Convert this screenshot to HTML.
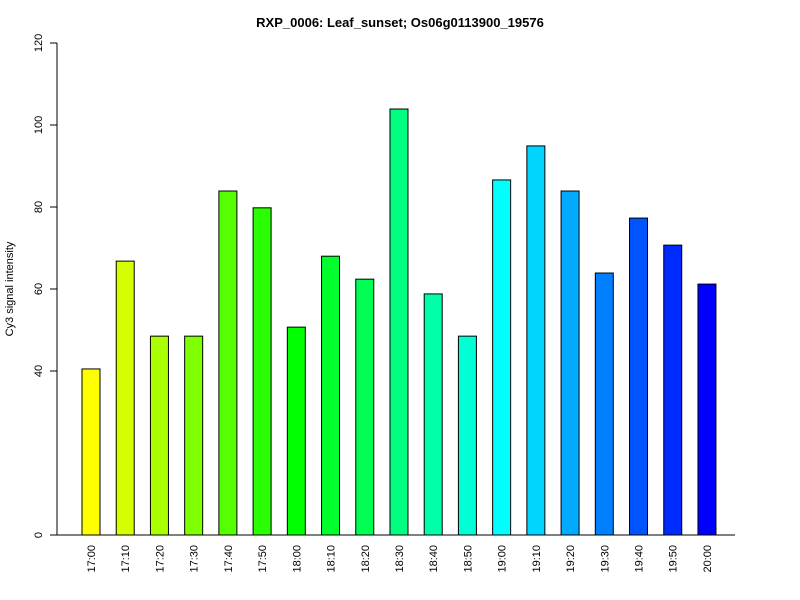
<!DOCTYPE html>
<html><head><meta charset="utf-8"><style>
body{margin:0;background:#fff;}
svg{display:block;font-family:"Liberation Sans",Arial,sans-serif;}
</style></head><body>
<svg id="chart" width="800" height="600">
<text x="400" y="27" text-anchor="middle" font-weight="bold" font-size="13">RXP_0006: Leaf_sunset; Os06g0113900_19576</text>
<text transform="translate(13,289) rotate(-90)" text-anchor="middle" font-size="11">Cy3 signal intensity</text>
<g id="yaxis"></g>
<g id="bars"></g>
<g id="xlabels"></g>
</svg>
<script>
const categories=["17:00","17:10","17:20","17:30","17:40","17:50","18:00","18:10","18:20","18:30","18:40","18:50","19:00","19:10","19:20","19:30","19:40","19:50","20:00"];
const values=[40.5,66.8,48.5,48.5,83.9,79.8,50.7,68,62.4,103.9,58.8,48.5,86.6,94.9,83.9,63.9,77.3,70.7,61.2];
const yTicks=[0,40,60,80,100,120];
const NS="http://www.w3.org/2000/svg";
const y=v=>535-v*492/120;
const x=i=>91+i*34.22;
function mk(t,a,p){const e=document.createElementNS(NS,t);for(const k in a)e.setAttribute(k,a[k]);p.appendChild(e);return e;}
const ya=document.getElementById('yaxis');
const ax=mk('line',{x1:57,x2:57,y1:y(0),y2:y(120),stroke:'#000'},ya);


yTicks.forEach(t=>{
 const l=mk('line',{x1:50,x2:57,y1:y(t),y2:y(t),stroke:'#000'},ya);
 
 
 const tx=mk('text',{transform:`translate(42,${y(t)}) rotate(-90)`,'text-anchor':'middle','font-size':'11'},ya);
 tx.textContent=t;
 
 
});
const bl=mk('line',{x1:57,x2:735,y1:y(0),y2:y(0),stroke:'#000'},ya);


const bg=document.getElementById('bars'),xg=document.getElementById('xlabels');
values.forEach((v,i)=>{
 const h=60+180*i/(values.length-1);
 const r=mk('rect',{x:x(i)-9,y:y(v),width:18,height:y(0)-y(v),fill:`hsl(${h},100%,50%)`,stroke:'#000','stroke-width':1},bg);
 
 
 const t=mk('text',{transform:`translate(${x(i)+4},545) rotate(-90)`,'text-anchor':'end','font-size':'11'},xg);
 t.textContent=categories[i];
 
 
});
</script>
</body></html>
